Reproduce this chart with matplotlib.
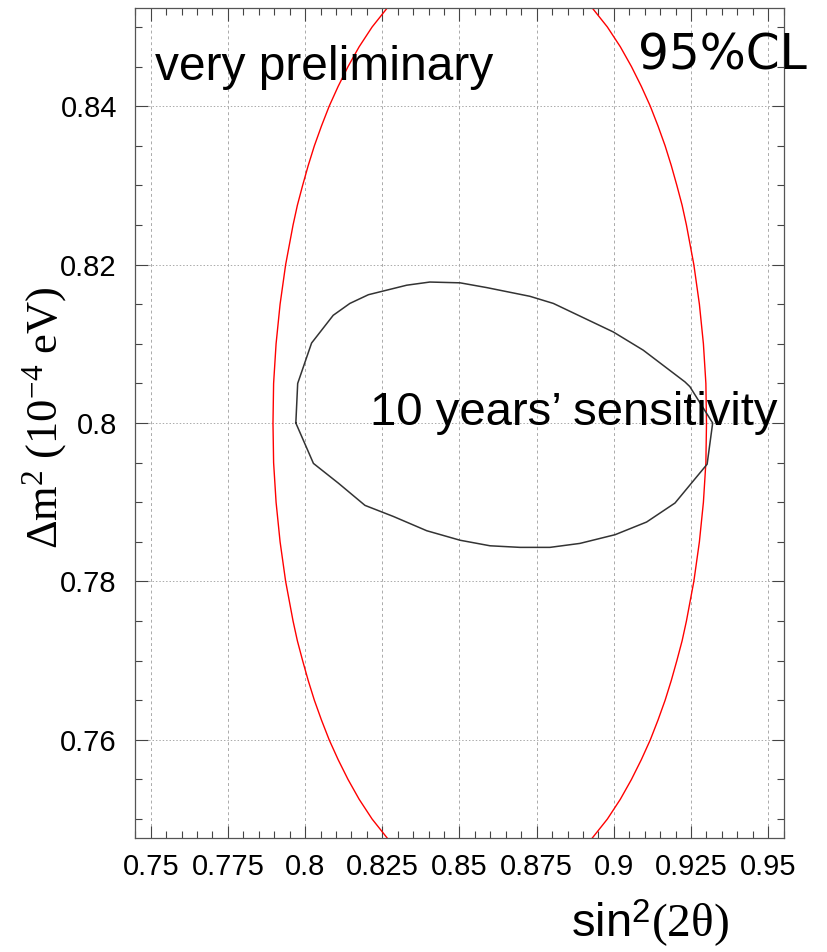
import matplotlib
matplotlib.use("Agg")
import matplotlib.pyplot as plt
from matplotlib.ticker import MultipleLocator

plt.rcParams['mathtext.fontset'] = 'custom'
plt.rcParams['mathtext.rm'] = 'Liberation Serif'
plt.rcParams['mathtext.sf'] = 'Liberation Sans'
plt.rcParams['mathtext.it'] = 'Liberation Serif:italic'

# 95% CL allowed region (red), left and right branches
cl95_y = [0.745, 0.7475, 0.75, 0.7525, 0.755, 0.7575, 0.76, 0.7625, 0.765,
          0.7675, 0.77, 0.7725, 0.775, 0.78, 0.785, 0.79, 0.795, 0.80, 0.805,
          0.81, 0.815, 0.82, 0.825, 0.8275, 0.83, 0.8325, 0.835, 0.8375,
          0.84, 0.8425, 0.845, 0.8475, 0.85, 0.8525, 0.855]
cl95_left = [0.8330, 0.8268, 0.8217, 0.8175, 0.8139, 0.8107, 0.8078, 0.8053,
             0.8030, 0.8010, 0.7992, 0.7975, 0.7961, 0.7937, 0.7919, 0.7906,
             0.7898, 0.7896, 0.7898, 0.7906, 0.7919, 0.7937, 0.7961, 0.7975,
             0.7992, 0.8010, 0.8030, 0.8053, 0.8078, 0.8107, 0.8139, 0.8175,
             0.8217, 0.8268, 0.8330]
cl95_right = [0.8866, 0.8928, 0.8979, 0.9021, 0.9057, 0.9089, 0.9118, 0.9143,
              0.9166, 0.9186, 0.9204, 0.9221, 0.9235, 0.9259, 0.9277, 0.9290,
              0.9298, 0.9300, 0.9298, 0.9290, 0.9277, 0.9259, 0.9235, 0.9221,
              0.9204, 0.9186, 0.9166, 0.9143, 0.9118, 0.9089, 0.9057, 0.9021,
              0.8979, 0.8928, 0.8866]

# 10 years' sensitivity contour (closed polygon)
sens_x = [0.7970, 0.7976, 0.8021, 0.8091, 0.8145, 0.8205, 0.8329, 0.8404,
          0.8502, 0.8588, 0.8728, 0.8804, 0.8998, 0.9095, 0.9230, 0.9246,
          0.9320, 0.9302, 0.9198, 0.9106, 0.9004, 0.8890, 0.8793, 0.8696,
          0.8599, 0.8502, 0.8394, 0.8286, 0.8194, 0.8108, 0.8027, 0.7970]
sens_y = [0.8000, 0.8050, 0.8101, 0.8136, 0.8151, 0.8162, 0.8174, 0.8178,
          0.8177, 0.8171, 0.8160, 0.8151, 0.8115, 0.8092, 0.8052, 0.8046,
          0.8000, 0.7948, 0.7899, 0.7875, 0.7859, 0.7848, 0.7843, 0.7843,
          0.7845, 0.7852, 0.7864, 0.7882, 0.7896, 0.7924, 0.7949, 0.8000]

x_ticks = [0.75, 0.775, 0.8, 0.825, 0.85, 0.875, 0.9, 0.925, 0.95]
x_ticklabels = ['0.75', '0.775', '0.8', '0.825', '0.85', '0.875', '0.9', '0.925', '0.95']
y_ticks = [0.76, 0.78, 0.80, 0.82, 0.84]
y_ticklabels = ['0.76', '0.78', '0.8', '0.82', '0.84']

fig = plt.figure(figsize=(8.27, 9.52), dpi=100)
ax = fig.add_axes([0.1632, 0.1197, 0.7848, 0.8719])

ax.plot(cl95_left, cl95_y, color='red', lw=1.0)
ax.plot(cl95_right, cl95_y, color='red', lw=1.0)
ax.plot(sens_x, sens_y, color='#333333', lw=1.1)

ax.set_xlim(0.7449, 0.9551)
ax.set_ylim(0.7476, 0.8524)

ax.set_xticks(x_ticks)
ax.set_xticklabels(x_ticklabels)
ax.set_yticks(y_ticks)
ax.set_yticklabels(y_ticklabels)
ax.xaxis.set_minor_locator(MultipleLocator(0.005))
ax.yaxis.set_minor_locator(MultipleLocator(0.005))

for lab in ax.get_xticklabels() + ax.get_yticklabels():
    lab.set_family('Liberation Sans')
    lab.set_fontsize(21)

ax.tick_params(which='both', direction='in', top=True, right=True,
               color='#444444', width=0.8)
ax.tick_params(which='major', length=9)
ax.tick_params(which='minor', length=5)
ax.tick_params(axis='x', which='major', pad=11)
ax.tick_params(axis='y', which='major', pad=13)

for sp in ax.spines.values():
    sp.set_color('#555555')
    sp.set_linewidth(0.9)

ax.grid(True, which='major', axis='x', color='#aaaaaa', lw=0.7, linestyle=(0, (3, 3)))
ax.grid(True, which='major', axis='y', color='#aaaaaa', lw=0.7, linestyle=(0, (1.5, 2)))

ax.text(0.7514, 0.8433, 'very preliminary', fontsize=34.5,
        family='Liberation Sans', va='baseline', ha='left')
ax.text(0.9078, 0.8446, '95%CL', fontsize=35,
        family='DejaVu Sans', va='baseline', ha='left')
ax.text(0.8210, 0.7997, '10 years\u2019 sensitivity', fontsize=34,
        family='Liberation Sans', va='baseline', ha='left')

fig.text(571.0 / 827, 1 - 937.0 / 952, r'$\mathsf{sin}^{\mathsf{2}}\mathrm{(2\theta)}$',
         fontsize=34, ha='left', va='baseline')
fig.text(45.0 / 827, 1 - 418.0 / 952, r'$\Delta\mathrm{m}^{2}\ \mathrm{(10^{-4}\ eV)}$',
         fontsize=32, ha='center', va='center', rotation=90)

fig.savefig('out.png', dpi=100)
